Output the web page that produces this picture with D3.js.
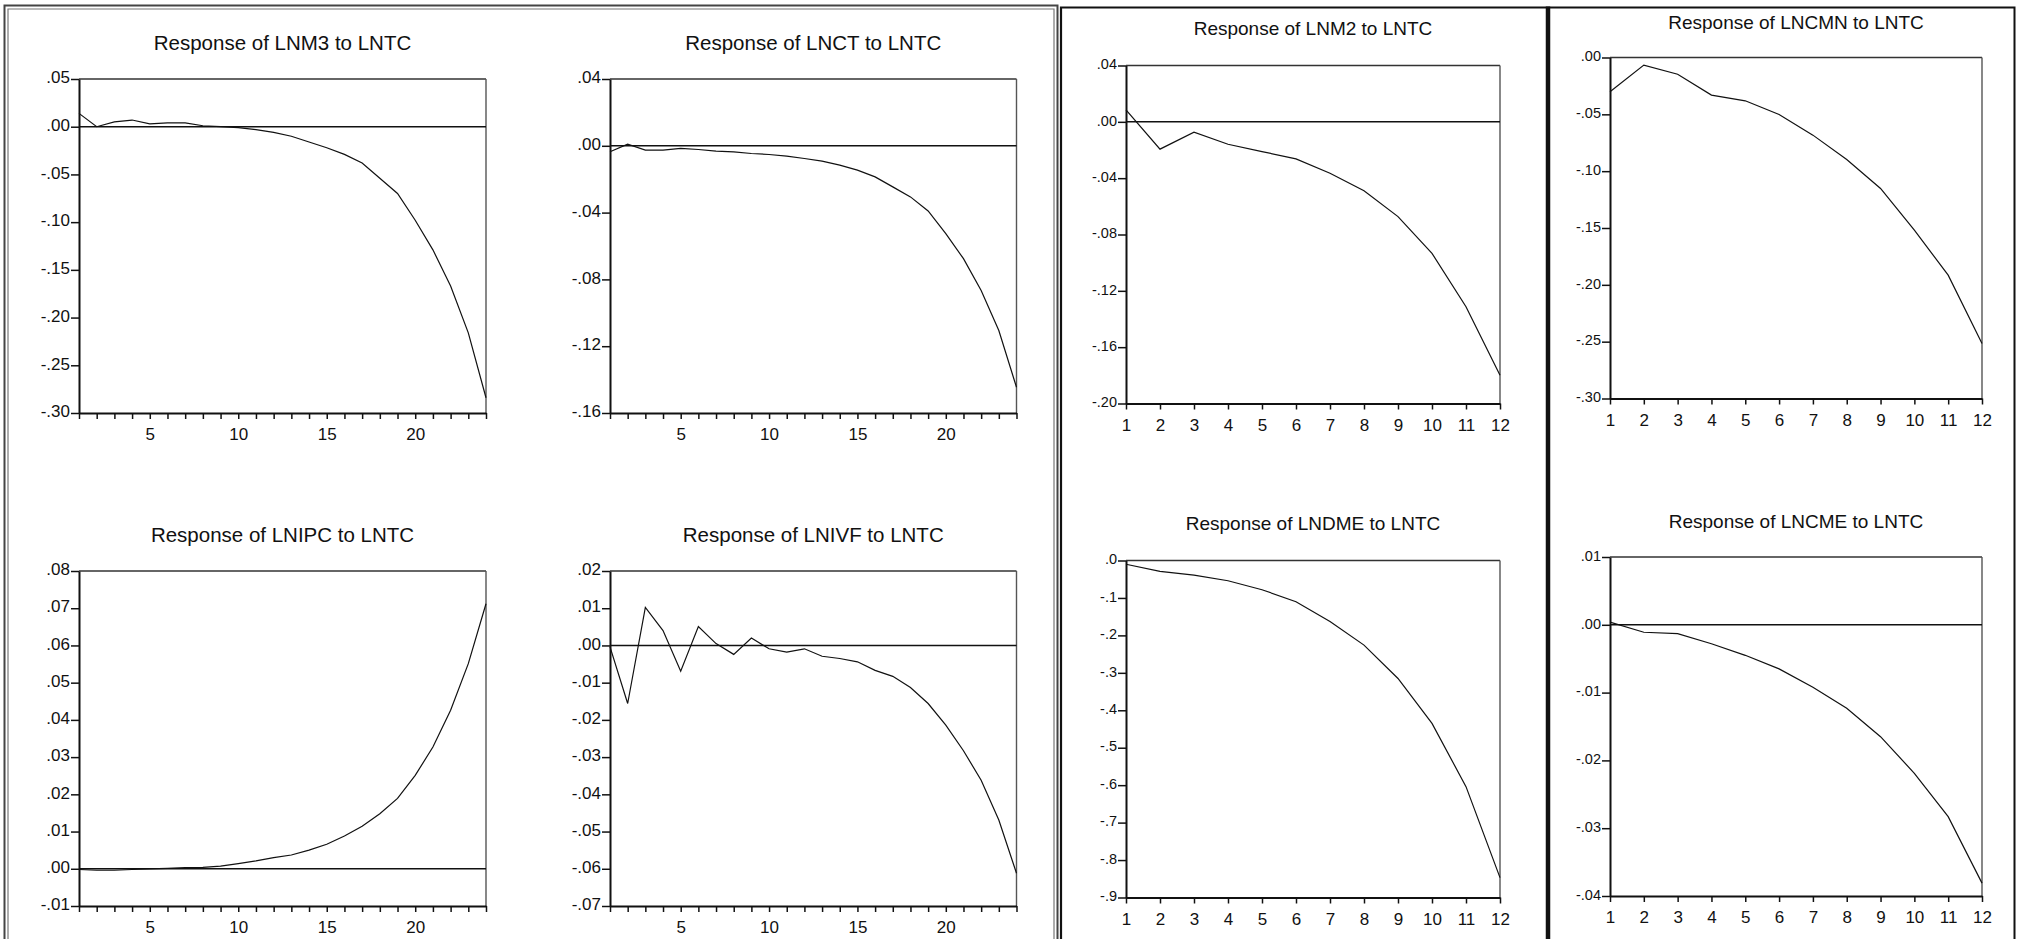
<!DOCTYPE html>
<html>
<head>
<meta charset="utf-8">
<script src="https://cdn.jsdelivr.net/npm/d3@7/dist/d3.min.js"></script>
<style>
  body { margin: 0; background: #fff; }
  svg { display: block; font-family: "Liberation Sans", Arial, sans-serif; }
</style>
</head>
<body>
<svg></svg>
<script>
// impulse responses of several series to a shock in LNTC
const width = 2022;
const height = 939;

const periods24 = [1,2,3,4,5,6,7,8,9,10,11,12,13,14,15,16,17,18,19,20,21,22,23,24];
const periods12 = [1,2,3,4,5,6,7,8,9,10,11,12];

const lnm3 = [0.014, 0.000, 0.005, 0.007, 0.003, 0.004, 0.004, 0.001, 0.000, -0.001, -0.003, -0.006,
  -0.010, -0.016, -0.022, -0.029, -0.038, -0.054, -0.070, -0.098, -0.129, -0.167, -0.216, -0.284];
const lnct = [-0.0036, 0.0010, -0.0026, -0.0026, -0.0016, -0.0022, -0.0032, -0.0036, -0.0046, -0.0052, -0.0062, -0.0076,
  -0.0092, -0.0116, -0.0146, -0.0186, -0.0246, -0.0306, -0.0390, -0.0526, -0.0676, -0.0866, -0.1106, -0.1446];
const lnipc = [-0.0002, -0.0004, -0.0004, -0.0002, 0.0000, 0.0001, 0.0003, 0.0004, 0.0007, 0.0014, 0.0021, 0.0030,
  0.0037, 0.0050, 0.0066, 0.0088, 0.0114, 0.0148, 0.0189, 0.0251, 0.0327, 0.0426, 0.0551, 0.0712];
const lnivf = [-0.0004, -0.0156, 0.0102, 0.0040, -0.0069, 0.0051, 0.0005, -0.0024, 0.0020, -0.0009, -0.0018, -0.0009,
  -0.0029, -0.0035, -0.0044, -0.0067, -0.0083, -0.0113, -0.0156, -0.0214, -0.0283, -0.0362, -0.0469, -0.0612];
const lnm2 = [0.0085, -0.0194, -0.0073, -0.0159, -0.0211, -0.0263, -0.0365, -0.0490, -0.0673, -0.0934, -0.1313, -0.1799];
const lncmn = [-0.0302, -0.0067, -0.0147, -0.0331, -0.0381, -0.0501, -0.0683, -0.0897, -0.1152, -0.1519, -0.1915, -0.2516];
const lndme = [-0.010, -0.029, -0.039, -0.054, -0.078, -0.110, -0.163, -0.226, -0.315, -0.435, -0.604, -0.847];
const lncme = [0.0004, -0.0011, -0.0013, -0.0028, -0.0045, -0.0065, -0.0092, -0.0123, -0.0165, -0.0219, -0.0283, -0.0381];

// y tick values and their labels
const ticksM3 = [0.05, 0, -0.05, -0.10, -0.15, -0.20, -0.25, -0.30];
const labelsM3 = [".05", ".00", "-.05", "-.10", "-.15", "-.20", "-.25", "-.30"];
const ticksCT = [0.04, 0, -0.04, -0.08, -0.12, -0.16];
const labelsCT = [".04", ".00", "-.04", "-.08", "-.12", "-.16"];
const ticksIPC = [0.08, 0.07, 0.06, 0.05, 0.04, 0.03, 0.02, 0.01, 0, -0.01];
const labelsIPC = [".08", ".07", ".06", ".05", ".04", ".03", ".02", ".01", ".00", "-.01"];
const ticksIVF = [0.02, 0.01, 0, -0.01, -0.02, -0.03, -0.04, -0.05, -0.06, -0.07];
const labelsIVF = [".02", ".01", ".00", "-.01", "-.02", "-.03", "-.04", "-.05", "-.06", "-.07"];
const ticksM2 = [0.04, 0, -0.04, -0.08, -0.12, -0.16, -0.20];
const labelsM2 = [".04", ".00", "-.04", "-.08", "-.12", "-.16", "-.20"];
const ticksCMN = [0, -0.05, -0.10, -0.15, -0.20, -0.25, -0.30];
const labelsCMN = [".00", "-.05", "-.10", "-.15", "-.20", "-.25", "-.30"];
const ticksDME = [0, -0.1, -0.2, -0.3, -0.4, -0.5, -0.6, -0.7, -0.8, -0.9];
const labelsDME = [".0", "-.1", "-.2", "-.3", "-.4", "-.5", "-.6", "-.7", "-.8", "-.9"];
const ticksCME = [0.01, 0, -0.01, -0.02, -0.03, -0.04];
const labelsCME = [".01", ".00", "-.01", "-.02", "-.03", "-.04"];

const xLabelsLong = [5, 10, 15, 20];

// panel layout: plot box [left, top, right, bottom]
const panels = [
  { title: "Response of LNM3 to LNTC", x: periods24, y: lnm3, ticks: ticksM3, labels: labelsM3, xLab: xLabelsLong,
    box: [79, 79, 486, 413], titleY: 50, titleSize: 20.5, tickSize: 17, xTickSize: 17 },
  { title: "Response of LNCT to LNTC", x: periods24, y: lnct, ticks: ticksCT, labels: labelsCT, xLab: xLabelsLong,
    box: [610, 79, 1016.5, 413], titleY: 50, titleSize: 20.5, tickSize: 17, xTickSize: 17 },
  { title: "Response of LNIPC to LNTC", x: periods24, y: lnipc, ticks: ticksIPC, labels: labelsIPC, xLab: xLabelsLong,
    box: [79, 571, 486, 906], titleY: 542, titleSize: 20.5, tickSize: 17, xTickSize: 17 },
  { title: "Response of LNIVF to LNTC", x: periods24, y: lnivf, ticks: ticksIVF, labels: labelsIVF, xLab: xLabelsLong,
    box: [610, 571, 1016.5, 906], titleY: 542, titleSize: 20.5, tickSize: 17, xTickSize: 17 },
  { title: "Response of LNM2 to LNTC", x: periods12, y: lnm2, ticks: ticksM2, labels: labelsM2, xLab: periods12,
    box: [1126, 65.5, 1500, 403.5], titleY: 35, titleSize: 19, tickSize: 14.5, xTickSize: 17 },
  { title: "Response of LNCMN to LNTC", x: periods12, y: lncmn, ticks: ticksCMN, labels: labelsCMN, xLab: periods12,
    box: [1610, 57.5, 1982, 398.5], titleY: 28.5, titleSize: 19, tickSize: 14.5, xTickSize: 17 },
  { title: "Response of LNDME to LNTC", x: periods12, y: lndme, ticks: ticksDME, labels: labelsDME, xLab: periods12,
    box: [1126, 560.5, 1500, 897.5], titleY: 530, titleSize: 19, tickSize: 14.5, xTickSize: 17 },
  { title: "Response of LNCME to LNTC", x: periods12, y: lncme, ticks: ticksCME, labels: labelsCME, xLab: periods12,
    box: [1610, 557, 1982, 896], titleY: 527.5, titleSize: 19, tickSize: 14.5, xTickSize: 17 }
];

const svg = d3.select("svg")
  .attr("width", width)
  .attr("height", height);

svg.append("rect").attr("width", width).attr("height", height).attr("fill", "#fff");

panels.forEach(p => {
  const [left, top, right, bottom] = p.box;
  const x = d3.scaleLinear().domain(d3.extent(p.x)).range([left, right]);
  const y = d3.scaleLinear().domain(d3.extent(p.ticks)).range([bottom, top]);
  const g = svg.append("g");

  // title
  g.append("text")
    .attr("x", (left + right) / 2)
    .attr("y", p.titleY)
    .attr("text-anchor", "middle")
    .attr("font-size", p.titleSize)
    .attr("fill", "#111")
    .text(p.title);

  // plot frame, top and right a bit lighter
  g.append("line").attr("x1", left).attr("x2", right).attr("y1", top).attr("y2", top)
    .attr("stroke", "#333").attr("stroke-width", 1.6);
  g.append("line").attr("x1", right).attr("x2", right).attr("y1", top).attr("y2", bottom)
    .attr("stroke", "#555").attr("stroke-width", 1.4);

  // zero line
  if (y.domain()[0] < 0 && y.domain()[1] > 0) {
    g.append("line").attr("x1", left).attr("x2", right).attr("y1", y(0)).attr("y2", y(0))
      .attr("stroke", "#111").attr("stroke-width", 1.5);
  }

  // the response
  g.append("path")
    .datum(p.y)
    .attr("fill", "none")
    .attr("stroke", "#111")
    .attr("stroke-width", 1.2)
    .attr("d", d3.line().x((d, i) => x(p.x[i])).y(d => y(d)));

  // left axis
  const yAxis = g.append("g")
    .attr("transform", `translate(${left},0)`)
    .call(d3.axisLeft(y).tickValues(p.ticks).tickSize(8).tickSizeOuter(0).tickPadding(1)
      .tickFormat((d, i) => p.labels[i]));
  yAxis.select(".domain").attr("stroke", "#111").attr("stroke-width", 2);
  yAxis.selectAll(".tick line").attr("stroke", "#111").attr("stroke-width", 1.5);
  yAxis.selectAll(".tick text")
    .attr("font-size", p.tickSize)
    .attr("font-family", "Liberation Sans, Arial, sans-serif")
    .attr("fill", "#111")
    .attr("dy", "0.22em");

  // bottom axis, a tick on every period
  const xAxis = g.append("g")
    .attr("transform", `translate(0,${bottom})`)
    .call(d3.axisBottom(x).tickValues(p.x).tickSize(6).tickSizeOuter(0).tickPadding(9)
      .tickFormat(d => p.xLab.includes(d) ? d : ""));
  xAxis.select(".domain").attr("stroke", "#111").attr("stroke-width", 2);
  xAxis.selectAll(".tick line").attr("stroke", "#111").attr("stroke-width", 1.5);
  xAxis.selectAll(".tick text")
    .attr("font-size", p.xTickSize)
    .attr("font-family", "Liberation Sans, Arial, sans-serif")
    .attr("fill", "#111");
});

// outer frames of the three pasted blocks
const frame = svg.append("g").attr("fill", "none");
// left block, double border
frame.append("path").attr("d", "M4.5,939 V5.5 H1057.5 V939").attr("stroke", "#444").attr("stroke-width", 2);
frame.append("path").attr("d", "M8,939 V9 H1054 V939").attr("stroke", "#777").attr("stroke-width", 1.2);
// middle block
frame.append("path").attr("d", "M1061,939 V7.5 H1548").attr("stroke", "#111").attr("stroke-width", 2.2);
frame.append("line").attr("x1", 1548).attr("x2", 1548).attr("y1", 6.5).attr("y2", 939)
  .attr("stroke", "#111").attr("stroke-width", 4.5);
// right block
frame.append("path").attr("d", "M1548,7.5 H2014.5 V939").attr("stroke", "#111").attr("stroke-width", 2);
</script>
</body>
</html>
